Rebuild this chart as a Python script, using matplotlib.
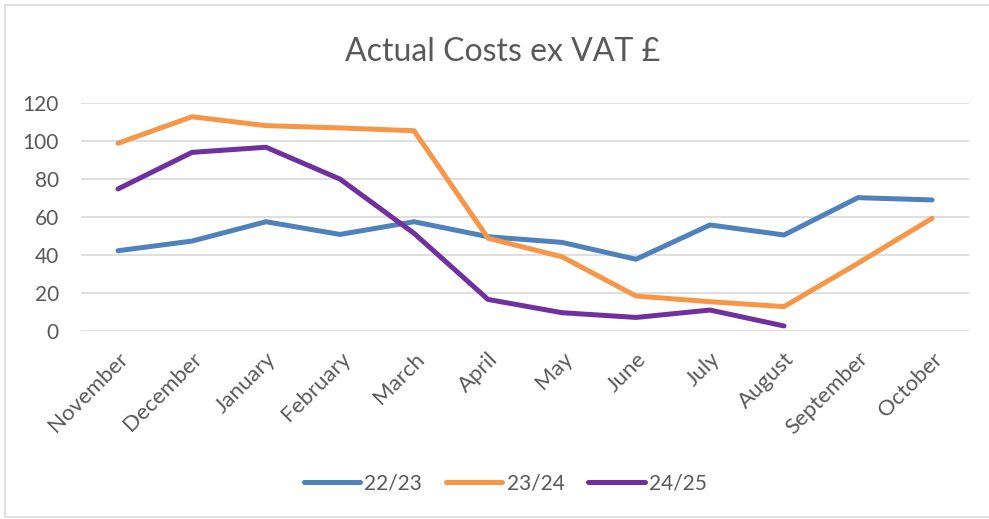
import matplotlib.pyplot as plt
from matplotlib.patches import Rectangle

months = ['November', 'December', 'January', 'February', 'March', 'April',
          'May', 'June', 'July', 'August', 'September', 'October']
costs_2223 = [42.2, 47.3, 57.5, 50.8, 57.5, 49.6, 46.6, 37.7, 55.8, 50.5, 70.2, 69.0]
costs_2324 = [98.9, 112.9, 108.2, 107.0, 105.5, 48.8, 39.0, 18.3, 15.3, 12.7, 35.6, 59.3]
costs_2425 = [74.8, 94.1, 96.8, 80.0, 51.4, 16.5, 9.5, 7.0, 10.9, 2.5]
yticks = [0, 20, 40, 60, 80, 100, 120]

plt.rcParams['font.family'] = ['Lato', 'DejaVu Sans']
grey = '#595959'

fig = plt.figure(figsize=(9.89, 5.19), dpi=100)
ax = fig.add_axes([0.0819, 0.3628, 0.8979, 0.4382])

x = list(range(len(months)))
ax.plot(x, costs_2223, color='#4F81BD', lw=3.6, solid_capstyle='round', label='22/23')
ax.plot(x, costs_2324, color='#F79646', lw=3.6, solid_capstyle='round', label='23/24')
ax.plot(x[:len(costs_2425)], costs_2425, color='#7030A0', lw=3.6,
        solid_capstyle='round', label='24/25')

ax.set_xlim(-0.5, len(months) - 0.5)
ax.set_ylim(0, 120)
ax.set_yticks(yticks)
ax.set_xticks(x)
ax.set_xticklabels(months, rotation=45, ha='right', rotation_mode='anchor')
ax.tick_params(axis='both', length=0, labelsize=15, colors=grey)
ax.tick_params(axis='x', labelsize=16, pad=13)
ax.tick_params(axis='y', pad=16)
for s in ax.spines.values():
    s.set_visible(False)
ax.grid(axis='y', color='#D9D9D9', lw=1.2)
ax.set_axisbelow(True)

fig.text(0.508, 0.9, 'Actual Costs ex VAT £', ha='center', va='center',
         fontsize=23, color=grey)

leg = fig.legend(loc='center', bbox_to_anchor=(0.511, 0.069), ncol=3, frameon=False,
                 fontsize=15, handlelength=2.7, columnspacing=1.15, handletextpad=0.2)
for t in leg.get_texts():
    t.set_color(grey)

fig.patches.append(Rectangle((0.005, 0.004), 1.2, 0.987, transform=fig.transFigure,
                             fill=False, edgecolor='#D9D9D9', lw=1.2))

fig.savefig('out.png', dpi=100)
